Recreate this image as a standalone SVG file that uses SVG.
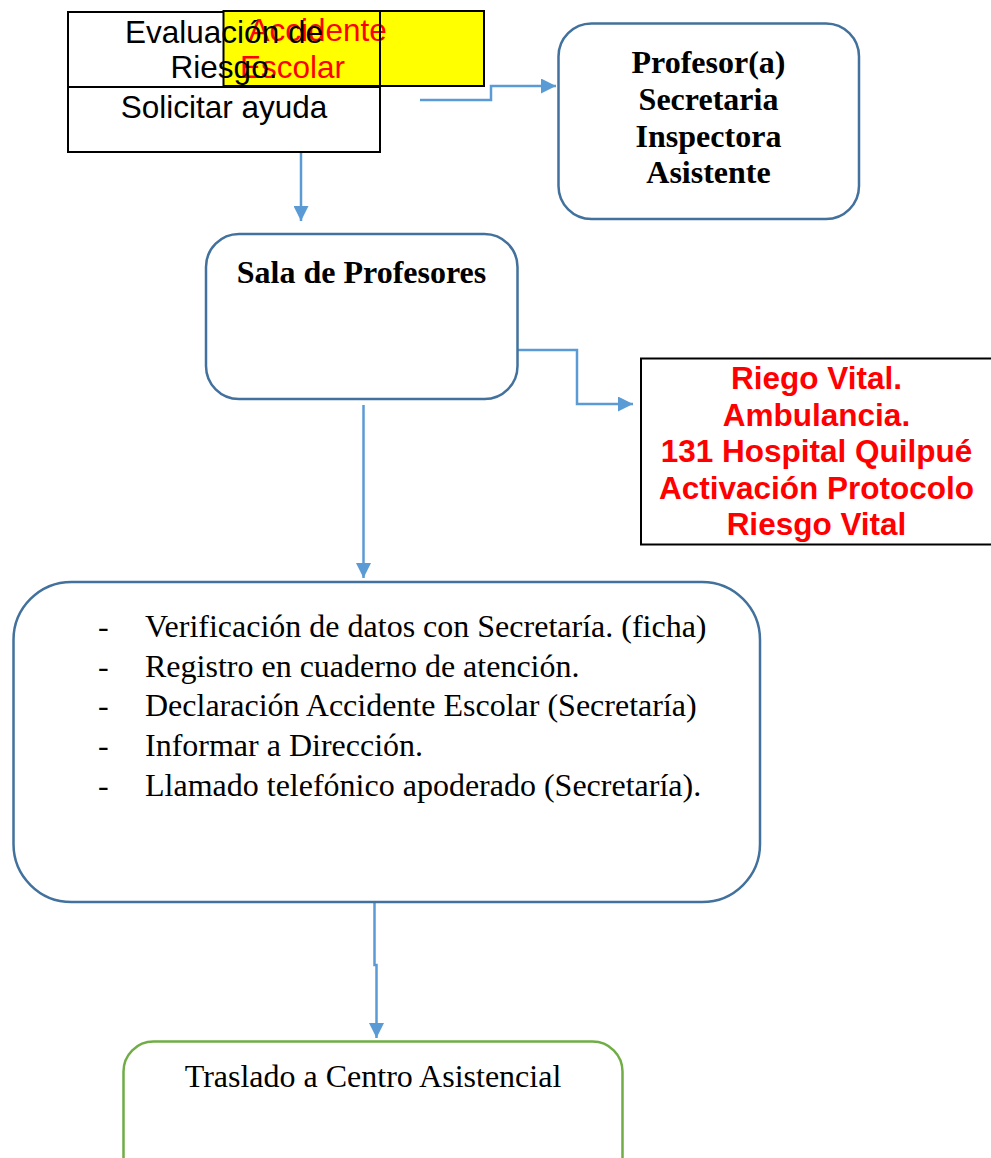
<svg xmlns="http://www.w3.org/2000/svg" width="991" height="1158" viewBox="0 0 991 1158">
<defs>
<style>
.bx{fill:#fff;stroke:#41719C;stroke-width:2.5}
.sq{fill:#fff;stroke:#000;stroke-width:2}
.con{fill:none;stroke:#5B9BD5;stroke-width:2.5}
.ar{font-family:"Liberation Sans",Arial,sans-serif;font-size:31.5px}
.tm{font-family:"Liberation Serif","Times New Roman",serif;font-size:32px}
.b{font-weight:bold}
.red{fill:#FF0000}
.mid{text-anchor:middle}
</style>
<marker id="ah" viewBox="0 0 10 10" refX="10" refY="5" markerWidth="6" markerHeight="6" markerUnits="strokeWidth" orient="auto">
<path d="M0,0 L10,5 L0,10 z" fill="#5B9BD5"/>
</marker>
</defs>
<rect width="991" height="1158" fill="#fff"/>

<g id="connectors">
<path class="con" d="M420,100 H491 V86 H556" marker-end="url(#ah)"/>
<path class="con" d="M301,146 V221" marker-end="url(#ah)"/>
<path class="con" d="M517,350 H577 V404 H633" marker-end="url(#ah)"/>
<path class="con" d="M363.5,405 V578" marker-end="url(#ah)"/>
<path class="con" d="M374.5,889 V965 H376.5 V1038" marker-end="url(#ah)"/>
</g>

<g id="node-evaluacion">
<rect class="sq" x="68" y="12" width="312" height="140"/>
</g>
<g id="node-accidente">
<rect x="223.5" y="11" width="260.5" height="75" fill="#FFFF00" stroke="#000" stroke-width="2"/>
<text class="ar red" x="248.5" y="41">Accidente</text>
<text class="ar red" x="240" y="78">Escolar</text>
</g>
<g id="node-evaluacion-text">
<line x1="380" y1="12" x2="380" y2="152" stroke="#000" stroke-width="2"/>
<line x1="68" y1="87" x2="380" y2="87" stroke="#000" stroke-width="2"/>
<text class="ar mid" x="224" y="43">Evaluación de</text>
<text class="ar mid" x="224" y="78">Riesgo.</text>
<text class="ar mid" x="224" y="118">Solicitar ayuda</text>
</g>

<g id="node-profesor">
<rect class="bx" x="558.5" y="23.5" width="300.5" height="195.5" rx="33" ry="33"/>
<text class="tm b mid" x="708.5" y="73">Profesor(a)</text>
<text class="tm b mid" x="708.5" y="110">Secretaria</text>
<text class="tm b mid" x="708.5" y="147">Inspectora</text>
<text class="tm b mid" x="708.5" y="183">Asistente</text>
</g>

<g id="node-sala">
<rect class="bx" x="206" y="234" width="311.5" height="165" rx="33" ry="33"/>
<text class="tm b mid" x="361.5" y="283">Sala de Profesores</text>
</g>

<g id="node-riesgo">
<rect x="641" y="358.5" width="352" height="186" fill="#fff" stroke="#000" stroke-width="2"/>
<g class="ar b red mid">
<text x="816.5" y="389">Riego Vital.</text>
<text x="816.5" y="426">Ambulancia.</text>
<text x="816.5" y="462">131 Hospital Quilpué</text>
<text x="816.5" y="498.5">Activación Protocolo</text>
<text x="816.5" y="535">Riesgo Vital</text>
</g>
</g>

<g id="node-acciones">
<rect class="bx" x="13.5" y="582" width="746.5" height="320" rx="58" ry="58"/>
<g class="tm">
<text x="98" y="637">-</text>
<text x="145" y="637">Verificación de datos con Secretaría. (ficha)</text>
<text x="98" y="677">-</text>
<text x="145" y="677">Registro en cuaderno de atención.</text>
<text x="98" y="716">-</text>
<text x="145" y="716">Declaración Accidente Escolar (Secretaría)</text>
<text x="98" y="756">-</text>
<text x="145" y="756">Informar a Dirección.</text>
<text x="98" y="796">-</text>
<text x="145" y="796">Llamado telefónico apoderado (Secretaría).</text>
</g>
</g>

<g id="node-traslado">
<rect x="123.5" y="1041.5" width="499" height="150" rx="30" ry="30" fill="#fff" stroke="#70AD47" stroke-width="2.5"/>
<text class="tm mid" x="373" y="1087">Traslado a Centro Asistencial</text>
</g>
</svg>
